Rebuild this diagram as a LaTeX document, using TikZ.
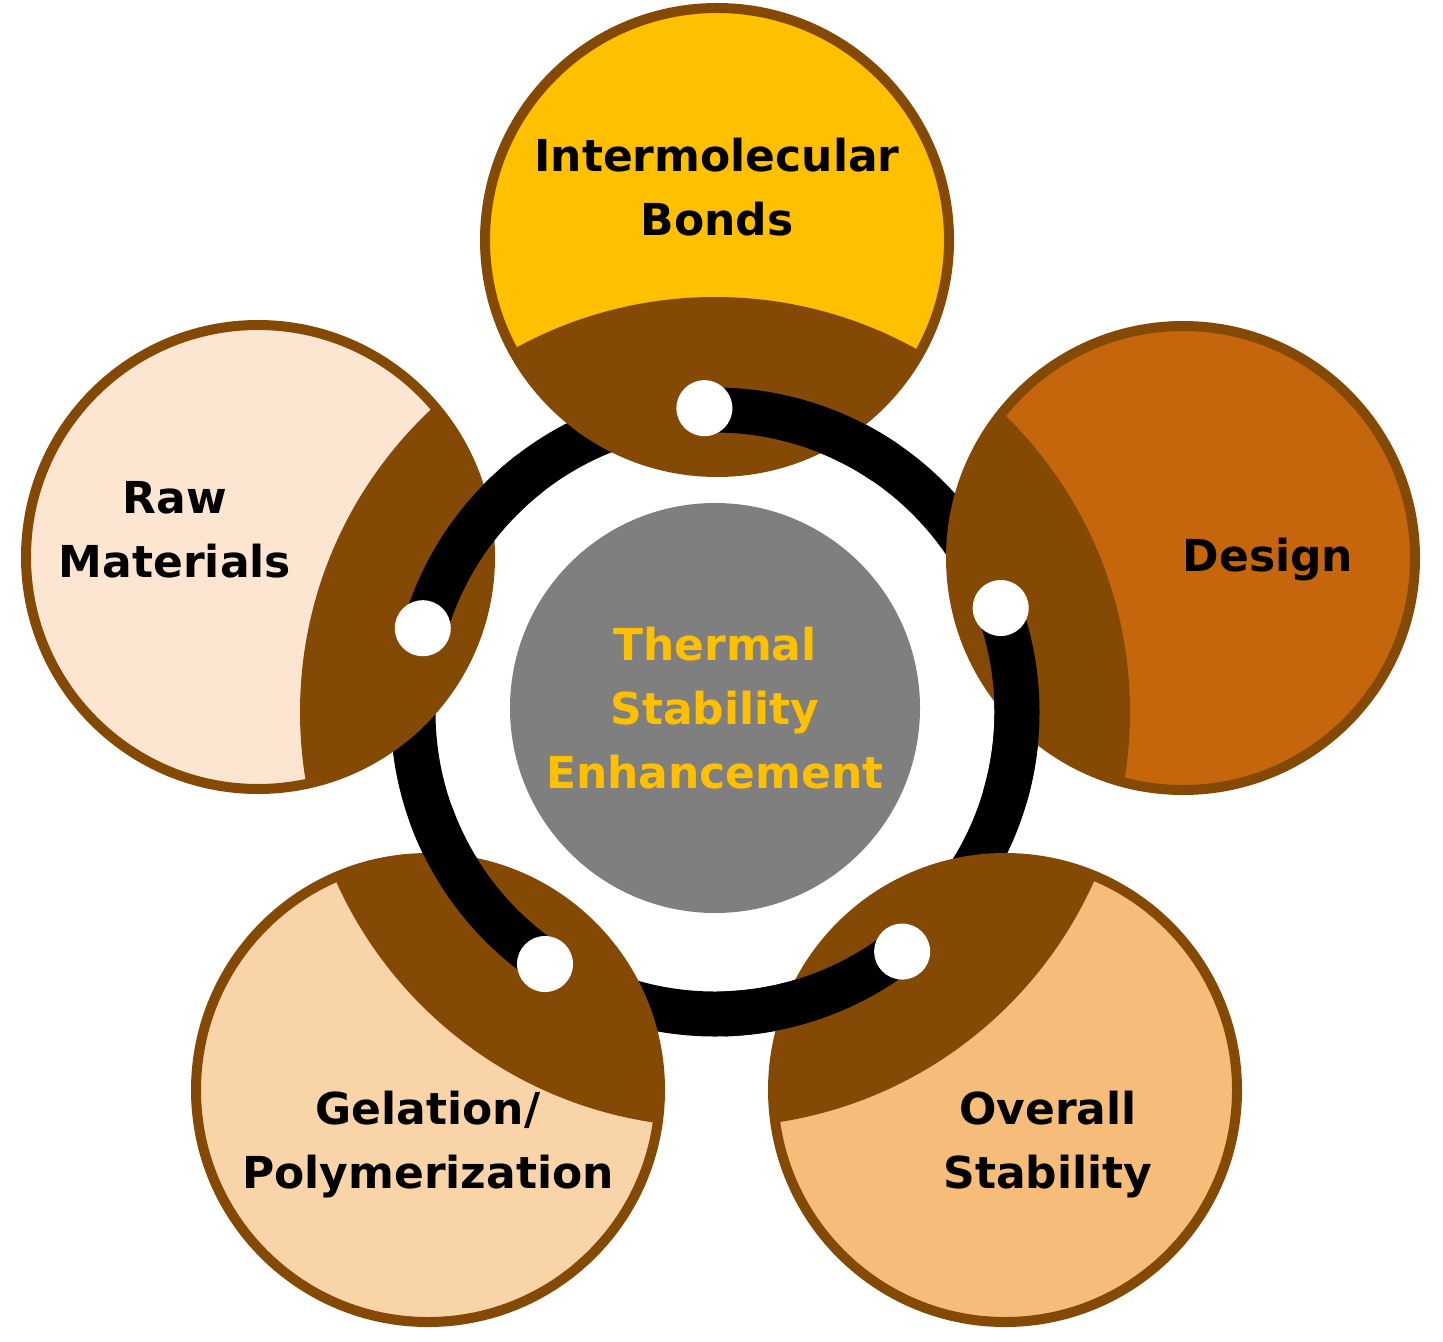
\documentclass[tikz,border=0pt]{standalone}
\usepackage{fontspec}
\setmainfont{DejaVu Sans}
\usetikzlibrary{calc}
\begin{document}
\begin{tikzpicture}[x=0.5pt,y=0.5pt,
  lab/.style={font=\bfseries\fontsize{22}{32}\selectfont,align=center,text=black},
  outl/.style={draw=brn,line width=5pt}]
\definecolor{brn}{HTML}{844A05}
\definecolor{gold}{HTML}{FFC000}
\definecolor{dsg}{HTML}{C5650C}
\definecolor{ovr}{HTML}{F6BC7A}
\definecolor{gel}{HTML}{F9D4A8}
\definecolor{raw}{HTML}{FCE6D2}
\definecolor{gry}{HTML}{7F7F7F}
\useasboundingbox (0,0) rectangle (1443,1341);
\coordinate (c) at (715,629);
% ring
\draw[line width=22.5pt] (c) circle (302);
% nodes
\foreach \n/\x/\y/\col in {top/717/1101/gold, des/1183/783/dsg, ovr/1005/251/ovr, gel/428/251/gel, raw/258/784/raw}{
  \coordinate (\n) at (\x,\y);
  \fill[\col] (\n) circle (232);
  \begin{scope}
    \clip (\n) circle (232);
    \fill[brn] (c) circle (415);
  \end{scope}
  \draw[outl] (\n) circle (232);
}
% ring arcs over nodes and holes
\foreach \a in {90,18,-54,-126,162}{
  \draw[line width=22.5pt,line cap=round] ($(c)+(\a:302)$) arc[start angle=\a,end angle=\a-34,radius=302];
  \fill[white] ($(c)+(\a+2:304)$) circle (28);
}
% centre
\node[circle,fill=gry,minimum size=410*0.5pt,inner sep=0pt] (ctr) at (715,633) {};
\node[lab,text=gold] at (ctr) {Thermal\\Stability\\Enhancement};
\node[lab] (t1) at (717,1154) {Intermolecular\\Bonds};
\node[lab] (t2) at (175,811) {Raw\\Materials};
\node[lab] (t3) at (1268,781) {Design};
\node[lab] (t4) at (1048,196) {Overall\\Stability};
\node[lab] (t5) at (428,196) {Gelation/\\Polymerization};
\end{tikzpicture}
\end{document}
